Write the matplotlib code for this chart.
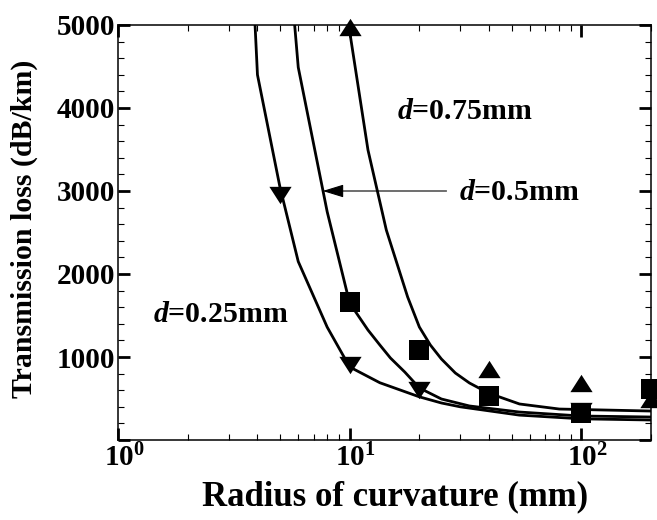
"""Bending loss vs. radius of curvature for three core diameters."""

import numpy as np

import matplotlib
matplotlib.use("Agg")
import matplotlib.pyplot as plt
from matplotlib.ticker import FixedLocator, FixedFormatter, NullFormatter
from matplotlib.transforms import ScaledTranslation

# measured points
radius_075 = [10, 40, 100, 200]
loss_075 = [4980, 850, 690, 490]
radius_050 = [10, 20, 40, 100, 200]
loss_050 = [1660, 1090, 530, 330, 620]
radius_025 = [5, 10, 20, 100]
loss_025 = [2950, 900, 600, 350]

# fitted curves
fit_r_075 = [9.78, 12.0, 14.4, 17.8, 20.0, 22.3, 24.9, 28.6, 32.9, 39.7,
             54.1, 80.4, 200.0]
fit_l_075 = [5100, 3494, 2530, 1723, 1361, 1145, 976, 807, 687, 566,
             434, 373, 349]
fit_r_050 = [5.75, 6.0, 8.0, 10.0, 12.0, 13.5, 15.0, 17.3, 20.0, 24.9,
             32.9, 54.0, 100.0, 200.0]
fit_l_050 = [5100, 4490, 2750, 1650, 1325, 1145, 988, 819, 627, 494,
             410, 337, 289, 277]
fit_r_025 = [3.89, 4.0, 5.0, 6.0, 8.0, 10.0, 13.5, 20.0, 24.9, 30.0,
             54.0, 100.0, 200.0]
fit_l_025 = [5100, 4400, 3050, 2150, 1360, 880, 690, 520, 446, 400,
             300, 255, 241]

y_major = [0, 1000, 2000, 3000, 4000, 5000]
y_labels = ["", "1000", "2000", "3000", "4000", "5000"]
x_major = [1, 10, 100]
x_labels = [r"$10^{0}$", r"$10^{1}$", r"$10^{2}$"]

plt.rcParams["font.family"] = "Liberation Serif"
plt.rcParams["font.weight"] = "bold"
plt.rcParams["mathtext.fontset"] = "custom"
plt.rcParams["mathtext.rm"] = "Liberation Serif:bold"
plt.rcParams["mathtext.bf"] = "Liberation Serif:bold"
plt.rcParams["mathtext.it"] = "Liberation Serif:italic:bold"

fig = plt.figure(figsize=(6.57, 5.20), dpi=100)
ax = fig.add_axes([118 / 657, 80 / 520, 533 / 657, 415 / 520])

for r, l in [(fit_r_075, fit_l_075), (fit_r_050, fit_l_050), (fit_r_025, fit_l_025)]:
    ax.plot(r, l, color="black", lw=2.0)

tri_up = [(-1, -0.78), (1, -0.78), (0, 0.78)]
tri_dn = [(-1, 0.78), (1, 0.78), (0, -0.78)]
ax.plot(radius_075, loss_075, ls="none", marker=tri_up, ms=16,
        mfc="black", mew=0, clip_on=False, zorder=3)
ax.plot(radius_025, loss_025, ls="none", marker=tri_dn, ms=16,
        mfc="black", mew=0, clip_on=False, zorder=3)
ax.plot(radius_050, loss_050, ls="none", marker="s", ms=13.7,
        mfc="black", mew=0, clip_on=False, zorder=4)

ax.set_xscale("log")
ax.set_xlim(1, 200)
ax.set_ylim(0, 5000)

minor_x = [m * d for d in (1, 10, 100) for m in range(2, 10) if m * d <= 200]
ax.xaxis.set_major_locator(FixedLocator(x_major))
ax.xaxis.set_major_formatter(FixedFormatter(x_labels))
ax.xaxis.set_minor_locator(FixedLocator(minor_x))
ax.xaxis.set_minor_formatter(NullFormatter())
ax.yaxis.set_major_locator(FixedLocator(y_major))
ax.yaxis.set_major_formatter(FixedFormatter(y_labels))
ax.yaxis.set_minor_locator(FixedLocator(np.arange(200, 5000, 200)))

ax.tick_params(which="both", direction="in", top=True, right=True)
ax.tick_params(which="major", length=8.6, width=2.0)
ax.tick_params(which="minor", length=4.5, width=0.8)
ax.tick_params(axis="y", which="major", labelsize=21, pad=2)
ax.tick_params(axis="x", which="major", labelsize=21, pad=3)
for sp in ax.spines.values():
    sp.set_linewidth(1.1)

shift = ScaledTranslation(0.06, 0, fig.dpi_scale_trans)
for lab in ax.get_xticklabels():
    lab.set_transform(lab.get_transform() + shift)

ax.set_xlabel("Radius of curvature (mm)", fontsize=25, fontweight="bold")
ax.xaxis.set_label_coords(0.52, -0.137)
ax.xaxis.label.set_va("center")
ax.set_ylabel("Transmission loss (dB/km)", fontsize=21.5, fontweight="bold")
ax.yaxis.set_label_coords(-0.176, 0.508)
ax.yaxis.label.set_va("center")

ax.text(15.95, 3952, r"$\mathit{d}$=0.75mm", fontsize=21.5, va="center")
ax.text(29.8, 2976, r"$\mathit{d}$=0.5mm", fontsize=21.5, va="center")
ax.text(1.415, 1518, r"$\mathit{d}$=0.25mm", fontsize=21.5, va="center")
ax.annotate("", xy=(7.65, 3000), xytext=(26.2, 3000),
            arrowprops=dict(arrowstyle="-|>,head_length=0.65,head_width=0.2",
                            lw=0.8, color="black", mutation_scale=20,
                            shrinkA=0, shrinkB=0))

fig.savefig("out.png", dpi=100)
plt.close(fig)
